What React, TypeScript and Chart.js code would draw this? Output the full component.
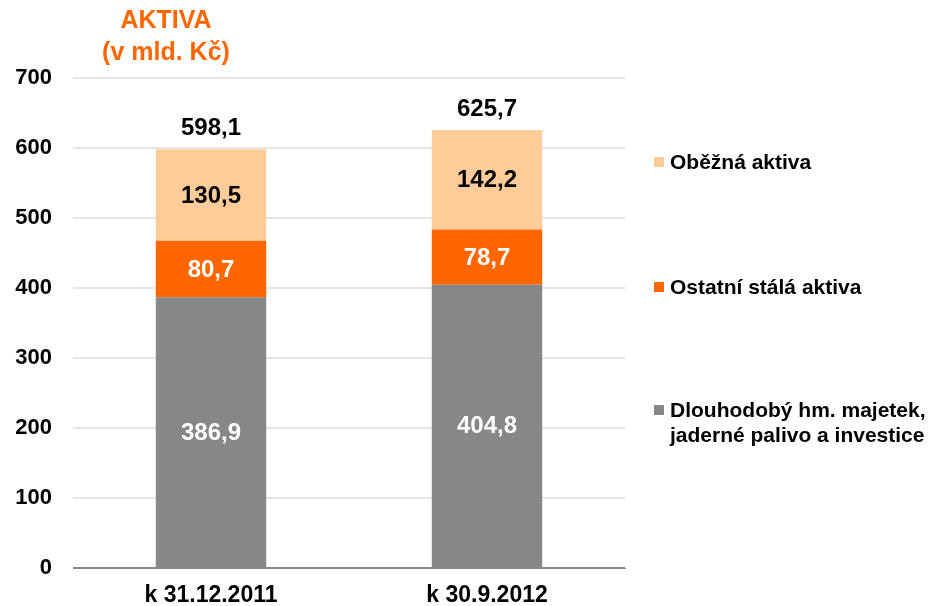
import React, { useEffect, useRef } from "react";
import { Chart, registerables } from "chart.js";

Chart.register(...registerables);

const categories = ["k 31.12.2011", "k 30.9.2012"];
const seriesNames = ["Dlouhodobý hm. majetek, jaderné palivo a investice", "Ostatní stálá aktiva", "Oběžná aktiva"];
const dlouhodoby = [386.9, 404.8];
const ostatni = [80.7, 78.7];
const obezna = [130.5, 142.2];
const totals = [598.1, 625.7];
const yTicks = [0, 100, 200, 300, 400, 500, 600, 700];
const legendLines = [["Oběžná aktiva"], ["Ostatní stálá aktiva"], ["Dlouhodobý hm. majetek,", "jaderné palivo a investice"]];
const titleLines = ["AKTIVA", "(v mld. Kč)"];

const FONT = "'Liberation Sans', Arial, sans-serif";
const GRAY = "#878787";
const ORANGE = "#FF6600";
const PEACH = "#FFCC99";

const fmt = (v: number) => v.toFixed(1).replace(".", ",");

const overlayPlugin = {
  id: "overlay",
  afterDatasetsDraw(chart: any) {
    const ctx = chart.ctx;
    ctx.save();
    // segment labels
    const labelColors = ["#ffffff", "#ffffff", "#000000"];
    chart.data.datasets.forEach((ds: any, di: number) => {
      const meta = chart.getDatasetMeta(di);
      meta.data.forEach((bar: any, i: number) => {
        const v = ds.data[i];
        const yMid = (bar.y + bar.base) / 2;
        ctx.font = `bold 24px ${FONT}`;
        ctx.fillStyle = labelColors[di];
        ctx.textAlign = "center";
        ctx.textBaseline = "middle";
        ctx.fillText(fmt(v), bar.x, yMid + 1);
      });
    });
    // totals
    const lastMeta = chart.getDatasetMeta(chart.data.datasets.length - 1);
    lastMeta.data.forEach((bar: any, i: number) => {
      ctx.font = `bold 24px ${FONT}`;
      ctx.fillStyle = "#000000";
      ctx.textAlign = "center";
      ctx.textBaseline = "middle";
      ctx.fillText(fmt(totals[i]), bar.x, bar.y - 21);
    });
    // title
    ctx.font = `bold 25px ${FONT}`;
    ctx.fillStyle = ORANGE;
    ctx.textAlign = "center";
    ctx.textBaseline = "middle";
    ctx.fillText(titleLines[0], 166, 21);
    ctx.fillText(titleLines[1], 166, 53);
    // legend
    const legendColors = [PEACH, ORANGE, GRAY];
    const legendY = [162, 287, 410];
    ctx.font = `bold 21px ${FONT}`;
    ctx.textAlign = "left";
    legendLines.forEach((lines, i) => {
      ctx.fillStyle = legendColors[i];
      ctx.fillRect(654, legendY[i] - 5, 10, 10);
      ctx.fillStyle = "#000000";
      lines.forEach((t, j) => {
        ctx.fillText(t, 670, legendY[i] + j * 25 + 1);
      });
    });
    ctx.restore();
  },
};

export default function App() {
  const ref = useRef<HTMLCanvasElement>(null);
  useEffect(() => {
    if (!ref.current) return;
    const chart = new Chart(ref.current, {
      type: "bar",
      data: {
        labels: categories,
        datasets: [
          { label: seriesNames[0], data: dlouhodoby, backgroundColor: GRAY },
          { label: seriesNames[1], data: ostatni, backgroundColor: ORANGE },
          { label: seriesNames[2], data: obezna, backgroundColor: PEACH },
        ],
      },
      options: {
        animation: false,
        responsive: true,
        maintainAspectRatio: false,
        layout: { padding: { left: 0, top: 78, right: 307, bottom: 0 } },
        plugins: { legend: { display: false }, title: { display: false }, tooltip: { enabled: false } },
        datasets: { bar: { categoryPercentage: 1, barPercentage: 0.4 } } as any,
        scales: {
          x: {
            stacked: true,
            grid: { display: false },
            border: { display: true, color: "#888888", width: 1 },
            ticks: { color: "#000000", font: { family: FONT, size: 23, weight: "bold" }, padding: 6 },
            afterFit: (s: any) => { s.height = 38; },
          },
          y: {
            stacked: true,
            min: 0,
            max: 700,
            afterBuildTicks: (s: any) => { s.ticks = yTicks.map((v) => ({ value: v })); },
            grid: { color: (c: any) => (c.tick && c.tick.value === 0 ? "#888888" : "#e4e4e4"), lineWidth: 2, drawTicks: false },
            border: { display: false },
            ticks: { color: "#000000", font: { family: FONT, size: 22, weight: "bold" }, padding: 21 },
            afterFit: (s: any) => { s.width = 73; },
          },
        },
      },
      plugins: [overlayPlugin],
    });
    return () => chart.destroy();
  }, []);
  return (
    <div style={{ position: "fixed", left: 0, top: 0, width: 932, height: 606, background: "#fff" }}>
      <canvas ref={ref} />
    </div>
  );
}
